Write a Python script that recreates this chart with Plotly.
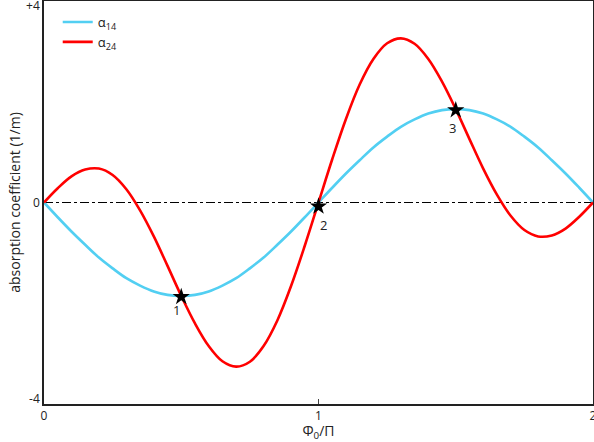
import plotly.graph_objects as go

# phase Phi0/Pi
phase = [0.0, 0.05, 0.1, 0.15, 0.2, 0.25, 0.3, 0.35, 0.4, 0.45, 0.5,
         0.55, 0.6, 0.65, 0.7, 0.75, 0.8, 0.85, 0.9, 0.95, 1.0,
         1.05, 1.1, 1.15, 1.2, 1.25, 1.3, 1.35, 1.4, 1.45, 1.5,
         1.55, 1.6, 1.65, 1.7, 1.75, 1.8, 1.85, 1.9, 1.95, 2.0]

alpha_14 = [0.0, -0.30, -0.59, -0.86, -1.12, -1.34, -1.54, -1.69, -1.81, -1.88, -1.90,
            -1.88, -1.81, -1.69, -1.54, -1.34, -1.12, -0.86, -0.59, -0.30, 0.0,
            0.30, 0.59, 0.86, 1.12, 1.34, 1.54, 1.69, 1.81, 1.88, 1.90,
            1.88, 1.81, 1.69, 1.54, 1.34, 1.12, 0.86, 0.59, 0.30, 0.0]

alpha_24 = [0.0, 0.29, 0.53, 0.67, 0.69, 0.56, 0.27, -0.16, -0.69, -1.29, -1.90,
            -2.46, -2.92, -3.23, -3.34, -3.24, -2.92, -2.40, -1.70, -0.88, 0.0,
            0.88, 1.70, 2.40, 2.92, 3.24, 3.34, 3.23, 2.92, 2.46, 1.90,
            1.29, 0.69, 0.16, -0.27, -0.56, -0.69, -0.67, -0.53, -0.29, 0.0]

# crossing points
star_x = [0.5, 1.0, 1.5]
star_y = [-1.92, -0.08, 1.88]
star_labels = ["1", "2", "3"]
label_pos = [(-5, -13), (5, -19), (-3, -18)]

y_ticks = [-4, 0, 4]
y_tick_text = ["-4", "0", "+4"]
x_ticks = [0, 1, 2]

font = "Open Sans, DejaVu Sans, sans-serif"

fig = go.Figure()
fig.add_trace(go.Scatter(x=[phase[0], phase[-1]], y=[0, 0], mode="lines",
                         line=dict(color="black", width=1.2, dash="dashdot"),
                         showlegend=False, hoverinfo="skip"))
fig.add_trace(go.Scatter(x=phase, y=alpha_14, mode="lines", name="α<sub>14</sub>",
                         line=dict(color="#52CFF2", width=2.6, shape="spline")))
fig.add_trace(go.Scatter(x=phase, y=alpha_24, mode="lines", name="α<sub>24</sub>",
                         line=dict(color="#FF0000", width=2.6, shape="spline")))
fig.add_trace(go.Scatter(x=star_x, y=star_y, mode="markers", showlegend=False,
                         marker=dict(symbol="star", size=13, color="black")))

for sx, sy, lab, (dx, dy) in zip(star_x, star_y, star_labels, label_pos):
    fig.add_annotation(x=sx, y=sy, text=lab, showarrow=False,
                       xshift=dx, yshift=dy, font=dict(size=13, color="#222"))

fig.update_layout(
    width=594, height=442,
    margin=dict(l=44, r=1, t=1, b=38),
    plot_bgcolor="white", paper_bgcolor="white",
    font=dict(family=font, size=12, color="#222"),
    legend=dict(x=0.025, y=0.985, xanchor="left", yanchor="top",
                bgcolor="rgba(0,0,0,0)", font=dict(size=13)),
)
fig.update_xaxes(range=[0, 2], tickvals=x_ticks, ticks="inside", ticklen=5,
                 showgrid=False, zeroline=False, showline=True, mirror=True,
                 linecolor="#222", linewidth=1.5, automargin=False,
                 ticklabeloverflow="allow",
                 title=dict(text="Φ<sub>0</sub>/Π", standoff=4))
fig.update_yaxes(range=[-4.1, 4.1], tickvals=y_ticks, ticktext=y_tick_text,
                 ticks="", showgrid=False, zeroline=False, showline=True, mirror=True,
                 linecolor="#222", linewidth=1.5, automargin=False,
                 ticklabeloverflow="allow",
                 title=dict(text="absorption coefficient (1/m)", standoff=2))

# page body has a default 8px margin; drop it so the figure fills the window
fig.write_html("out.html", config={"displayModeBar": False},
               post_script="document.body.style.margin='0';")
